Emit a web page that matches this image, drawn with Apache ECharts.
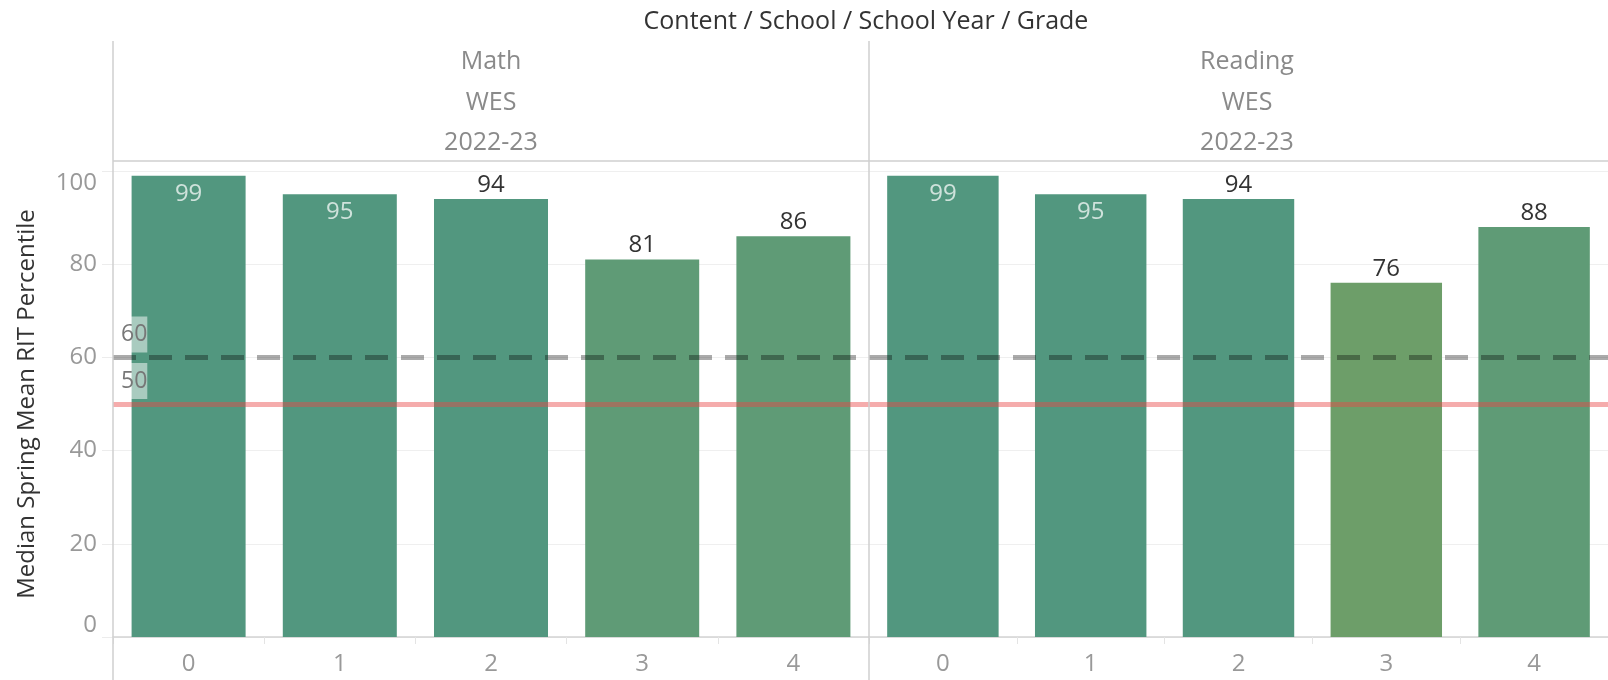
<!DOCTYPE html>
<html><head><meta charset="utf-8">
<script src="https://cdn.jsdelivr.net/npm/echarts@6/dist/echarts.min.js"></script>
<style>html,body{margin:0;padding:0;background:#fff}#c{width:1608px;height:680px}</style>
</head><body><div id="c"></div>
<script>
// ---- data ----
const chartTitle = 'Content / School / School Year / Grade';
const yAxisName = 'Median Spring Mean RIT Percentile';
const grades = ['0', '1', '2', '3', '4'];
const contents = ['Math', 'Reading'];
const schools = ['WES', 'WES'];
const schoolYears = ['2022-23', '2022-23'];
const mathValues = [99, 95, 94, 81, 86];
const readingValues = [99, 95, 94, 76, 88];
const targetLine = 60;
const medianLine = 50;

// ---- layout / style ----
const FONT = '"Open Sans", Lato, sans-serif';
const PANEL_LEFT = 113, PANEL_W = 756, GRID_TOP = 171, GRID_H = 466;
const panelValues = [mathValues, readingValues];

function barColor(v) {
  if (v >= 90) return '#52977f';
  if (v >= 80) return '#5f9b76';
  return '#6d9e69';
}

const grids = [], xAxes = [], yAxes = [], series = [], graphics = [];

panelValues.forEach((vals, i) => {
  const left = PANEL_LEFT + i * PANEL_W;
  grids.push({ left: left, top: GRID_TOP, width: PANEL_W, height: GRID_H, containLabel: false });
  xAxes.push({
    type: 'category', gridIndex: i, data: grades,
    axisLine: { show: true, lineStyle: { color: '#d4d4d4', width: 1.5 } },
    axisTick: { show: true, length: 7, lineStyle: { color: '#e4e4e4' } },
    axisLabel: { color: '#999', fontSize: 24, fontFamily: FONT, margin: 15 }
  });
  yAxes.push({
    type: 'value', gridIndex: i, min: 0, max: 100, interval: 20,
    name: i === 0 ? yAxisName : '',
    nameLocation: 'middle', nameGap: 74, nameRotate: 90,
    nameTextStyle: { color: '#333', fontSize: 24, fontFamily: FONT },
    axisLine: { show: false },
    axisTick: { show: i === 0, length: 11, lineStyle: { color: '#ececec' } },
    axisLabel: {
      show: i === 0, color: '#999', fontSize: 24, fontFamily: FONT, margin: 16,
      verticalAlignMaxLabel: 'top', verticalAlignMinLabel: 'bottom'
    },
    splitLine: { show: true, lineStyle: { color: '#efefef', width: 1 } }
  });
  const showRefLabels = i === 0;
  const refLabel = {
    show: showRefLabels, position: 'insideStartTop', distance: [8, 5],
    color: '#777', fontSize: 23, fontFamily: FONT,
    backgroundColor: 'rgba(255,255,255,0.5)', padding: [6, 0], lineHeight: 24,
    formatter: p => String(p.value)
  };
  series.push({
    type: 'bar', xAxisIndex: i, yAxisIndex: i,
    barCategoryGap: '24.6%',
    data: vals.map(v => {
      const inside = v >= 95;
      return {
        value: v,
        itemStyle: { color: barColor(v) },
        label: inside
          ? { show: true, position: 'insideTop', distance: 6, color: 'rgba(255,255,255,0.72)' }
          : { show: true, position: 'top', distance: 2, color: '#333' }
      };
    }),
    label: { fontSize: 24, fontFamily: FONT },
    markLine: {
      silent: true, symbol: 'none', z: 5,
      data: [
        { yAxis: targetLine, lineStyle: { type: [23, 13], width: 5, color: 'rgba(0,0,0,0.33)' }, label: refLabel },
        { yAxis: medianLine, lineStyle: { type: 'solid', width: 5, color: 'rgba(232,70,70,0.45)' }, label: refLabel }
      ]
    }
  });
  const cx = left + PANEL_W / 2;
  [contents[i], schools[i], schoolYears[i]].forEach((t, k) => {
    graphics.push({
      type: 'text', x: cx, y: [61.5, 102.5, 142.5][k],
      style: { text: t, fill: '#8a8a8a', fontSize: 25, fontFamily: FONT, textAlign: 'center', textVerticalAlign: 'middle' }
    });
  });
  graphics.push({
    type: 'line', shape: { x1: left, y1: 41, x2: left, y2: 680 },
    style: { stroke: '#cfcfcf', lineWidth: 1.5 }, z: 10
  });
});

graphics.push({
  type: 'line', shape: { x1: PANEL_LEFT, y1: 161, x2: 1608, y2: 161 },
  style: { stroke: '#cfcfcf', lineWidth: 1.5 }, z: 10
});
graphics.push({
  type: 'text', x: 866, y: 21.5,
  style: { text: chartTitle, fill: '#333', fontSize: 25, fontFamily: FONT, textAlign: 'center', textVerticalAlign: 'middle' }
});

const chart = echarts.init(document.getElementById('c'), null, { renderer: 'canvas' });
chart.setOption({
  animation: false,
  backgroundColor: '#fff',
  grid: grids, xAxis: xAxes, yAxis: yAxes, series: series,
  graphic: graphics
});
</script>
</body></html>
